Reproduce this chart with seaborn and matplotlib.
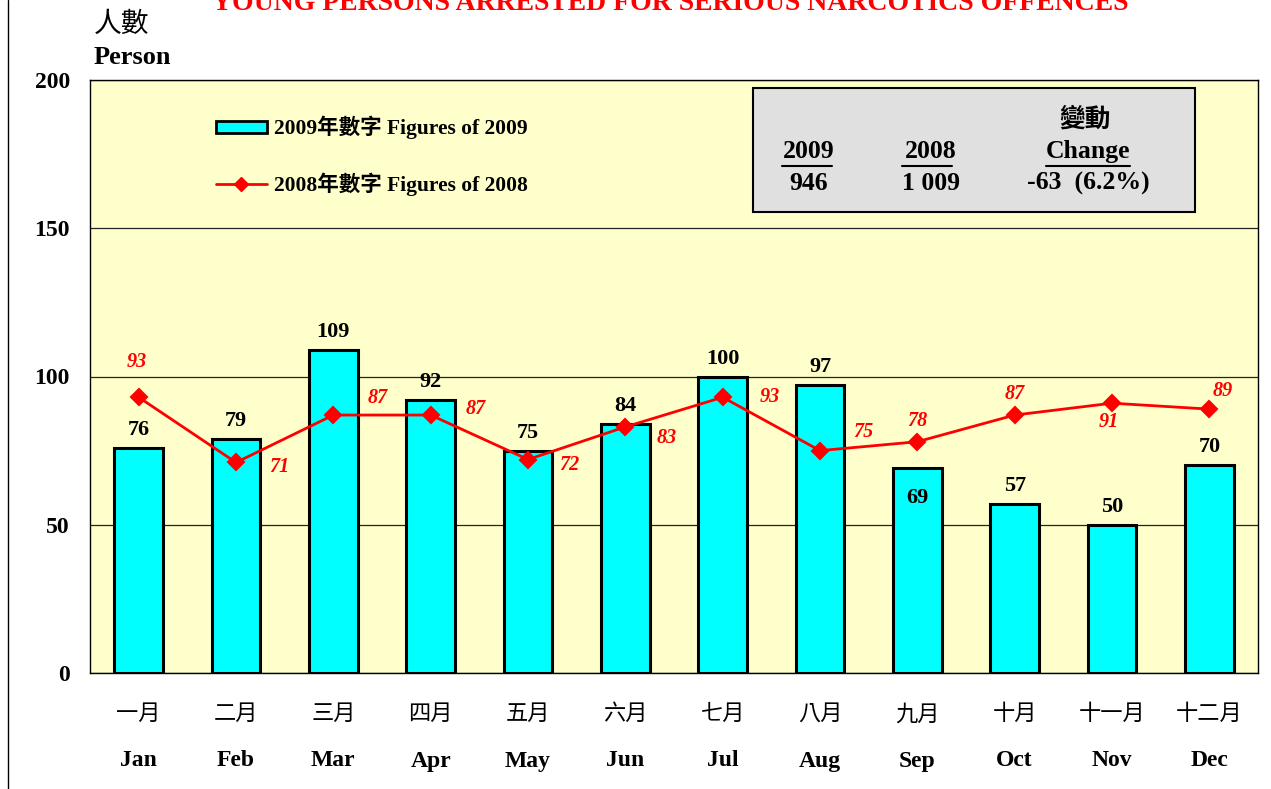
import matplotlib
matplotlib.use("Agg")
import matplotlib.pyplot as plt
import pandas as pd
import seaborn as sns
from matplotlib.lines import Line2D
from matplotlib.patches import Patch, Rectangle

sns.set_style("white")
plt.rcParams["font.family"] = ["Liberation Serif", "Noto Sans CJK TC"]
plt.rcParams["text.color"] = "black"
plt.rcParams["xtick.color"] = "black"
plt.rcParams["ytick.color"] = "black"

months_zh = ["一月", "二月", "三月", "四月", "五月", "六月",
             "七月", "八月", "九月", "十月", "十一月", "十二月"]
months_en = ["Jan", "Feb", "Mar", "Apr", "May", "Jun",
             "Jul", "Aug", "Sep", "Oct", "Nov", "Dec"]
figures_2009 = [76, 79, 109, 92, 75, 84, 100, 97, 69, 57, 50, 70]
figures_2008 = [93, 71, 87, 87, 72, 83, 93, 75, 78, 87, 91, 89]

# label offsets (pixels) for the 2008 series
offsets_2008 = [(-2, 35), (43, -5), (44, 17), (45, 6), (41, -5), (41, -11),
                (47, 0), (43, 19), (0, 21), (0, 21), (-3, -19), (13, 18)]

df = pd.DataFrame({"Month": months_en, "y2009": figures_2009, "y2008": figures_2008})

fig = plt.figure(figsize=(12.71, 7.89), dpi=100)
ax = fig.add_axes([90 / 1271, 1 - 673 / 789, 1168 / 1271, 593 / 789])
ax.set_facecolor("#FFFFCC")

sns.barplot(data=df, x="Month", y="y2009", color="#00FFFF", width=0.5,
            edgecolor="black", linewidth=2.2, saturation=1, ax=ax, zorder=3)
sns.pointplot(data=df, x="Month", y="y2008", color="red", markers="D",
              markersize=8, linewidth=2, ax=ax, zorder=4)

ax.set_ylim(0, 200)
ax.set_yticks([0, 50, 100, 150, 200])
ax.yaxis.grid(True, color="#222222", linewidth=0.9)
ax.set_axisbelow(True)
for sp in ax.spines.values():
    sp.set_linewidth(1.0)
    sp.set_color("black")
ax.tick_params(axis="y", length=0, pad=14.5, labelsize=17)
for t in ax.get_yticklabels():
    t.set_fontweight("bold")
ax.set_xlabel("")
ax.set_ylabel("")
ax.set_xlim(-0.5, 11.5)

ax.set_xticks(range(12))
ax.set_xticklabels(months_zh, fontsize=16, family=["Noto Sans CJK TC"])
ax.tick_params(axis="x", length=0, pad=21)
for i, m in enumerate(months_en):
    ax.annotate(m, xy=(i, 0), xycoords=("data", "axes fraction"),
                xytext=(0, -88), textcoords="offset pixels",
                ha="center", va="center", fontsize=17, fontweight="bold")

# bar value labels
for i, v in enumerate(figures_2009):
    dy = -30 if months_en[i] == "Sep" else 18
    ax.annotate(str(v), xy=(i, v), xytext=(0, dy), textcoords="offset pixels",
                ha="center", va="center", fontsize=16, fontweight="bold", zorder=6)

# 2008 value labels
for i, v in enumerate(figures_2008):
    ox, oy = offsets_2008[i]
    ax.annotate(str(v), xy=(i, v), xytext=(ox, oy), textcoords="offset pixels",
                ha="center", va="center", fontsize=14.5, color="red",
                fontweight="bold", fontstyle="italic", zorder=6)

# legend
handles = [Patch(facecolor="#00FFFF", edgecolor="black", linewidth=2),
           Line2D([0], [0], color="red", linewidth=2, marker="D", markersize=7)]
labels = ["2009年數字 Figures of 2009", "2008年數字 Figures of 2008"]
ax.legend(handles, labels, loc="upper left", bbox_to_anchor=(0.091, 0.972),
          frameon=False, handlelength=2.4, handleheight=0.5, labelspacing=1.55,
          handletextpad=0.3,
          prop={"family": ["Liberation Serif", "Noto Sans CJK TC"],
                "weight": "bold", "size": 15.5})

# summary box
ax.add_patch(Rectangle((0.5676, 0.7774), 0.3784, 0.2091, transform=ax.transAxes,
                       facecolor="#E0E0E0", edgecolor="black", linewidth=1.5,
                       zorder=5))
box_kw = dict(transform=ax.transAxes, ha="center", va="center",
              fontsize=18.5, fontweight="bold", zorder=6)
ax.text(0.852, 0.9345, "變動", **box_kw)
ax.text(0.6156, 0.8786, "2009", **box_kw)
ax.text(0.72, 0.8786, "2008", **box_kw)
ax.text(0.8545, 0.8786, "Change", **box_kw)
ax.text(0.6156, 0.8263, "946", **box_kw)
ax.text(0.72, 0.8263, "1 009", **box_kw)
ax.text(0.8545, 0.8263, "-63  (6.2%)", **box_kw)
for x0, x1 in [(0.5925, 0.6353), (0.6952, 0.738), (0.8185, 0.8904)]:
    ax.plot([x0, x1], [0.8545, 0.8545], transform=ax.transAxes,
            color="black", linewidth=1.5, zorder=6)

# axis title and chart title
fig.text(94 / 1271, 1 - 24 / 789, "人數", fontsize=20, va="center", ha="left",
         family=["Noto Sans CJK TC"])
fig.text(94 / 1271, 1 - 58 / 789, "Person", fontsize=19, fontweight="bold",
         va="center", ha="left")
fig.text(670 / 1271, 1 - 10 / 789,
         "YOUNG PERSONS ARRESTED FOR SERIOUS NARCOTICS OFFENCES",
         fontsize=20, fontweight="bold", color="red", ha="center", va="baseline")

# left border line
fig.add_artist(Line2D([8 / 1271, 8 / 1271], [0, 1], color="black", linewidth=1))

fig.savefig("out.png", dpi=100)
